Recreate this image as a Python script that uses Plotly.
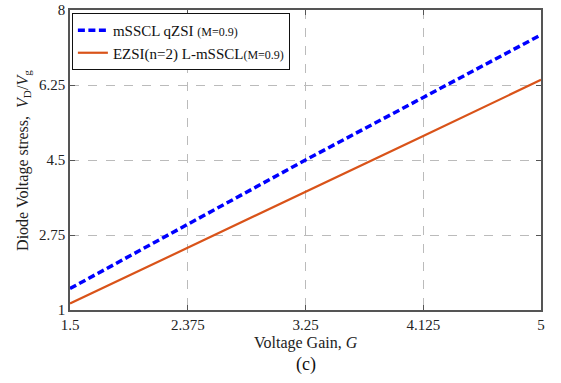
import plotly.graph_objects as go

gain = [1.5, 2.375, 3.25, 4.125, 5]
msscl_qzsi = [1.5, 3.0, 4.5, 5.96, 7.42]
ezsi_lmsscl = [1.15, 2.45, 3.75, 5.06, 6.37]
x_ticks = [1.5, 2.375, 3.25, 4.125, 5]
x_tick_labels = ["1.5", "2.375", "3.25", "4.125", "5"]
y_ticks = [1, 2.75, 4.5, 6.25, 8]
y_tick_labels = ["1", "2.75", "4.5", "6.25", "8"]

font = "Liberation Serif, serif"

fig = go.Figure()
fig.add_trace(go.Scatter(
    x=gain, y=msscl_qzsi, mode="lines",
    name="mSSCL qZSI <span style='font-size:12px'>(M=0.9)</span>",
    line=dict(color="#0000FF", width=3.5, dash="7px,3.5px"),
))
fig.add_trace(go.Scatter(
    x=gain, y=ezsi_lmsscl, mode="lines",
    name="EZSI(n=2) L-mSSCL<span style='font-size:12px'>(M=0.9)</span>",
    line=dict(color="#D95319", width=2.2),
))

axis_common = dict(
    showline=True, mirror="ticks", linecolor="#555555", linewidth=1.5,
    ticks="inside", ticklen=5, tickcolor="#555555",
    showgrid=True, gridcolor="#BBBBBB", griddash="dash", gridwidth=1,
    zeroline=False, tickfont=dict(family=font, size=15, color="#222222"),
    automargin=False,
)

fig.update_layout(
    width=561, height=383,
    margin=dict(l=70, r=20, t=10, b=73),
    paper_bgcolor="white", plot_bgcolor="white",
    font=dict(family=font, color="#222222"),
    xaxis=dict(range=[1.5, 5], tickvals=x_ticks, ticktext=x_tick_labels, **axis_common),
    yaxis=dict(range=[1, 8], tickvals=y_ticks, ticktext=y_tick_labels, **axis_common),
    legend=dict(
        x=0.004, y=0.99, xanchor="left", yanchor="top",
        bgcolor="white", bordercolor="#111111", borderwidth=1,
        font=dict(family=font, size=15, color="#111111"),
        itemwidth=30, tracegroupgap=0,
    ),
    showlegend=True,
)

fig.add_annotation(
    text="Voltage Gain, <i>G</i>", x=0.5, y=-0.11, xref="paper", yref="paper",
    showarrow=False, font=dict(family=font, size=16, color="#222222"),
    yanchor="middle",
)
fig.add_annotation(
    text="(c)", x=0.5, y=-0.183, xref="paper", yref="paper",
    showarrow=False, font=dict(family=font, size=18, color="#111111"),
    yanchor="middle",
)
fig.add_annotation(
    text="Diode Voltage stress,  <i>V</i><sub>D</sub>/<i>V</i><sub>g</sub>",
    x=-0.1, y=0.5, xref="paper", yref="paper", textangle=-90,
    showarrow=False, font=dict(family=font, size=16, color="#222222"),
    xanchor="center",
)

fig.write_html("out.html", config={"displayModeBar": False},
               post_script="document.body.style.margin='0';")
